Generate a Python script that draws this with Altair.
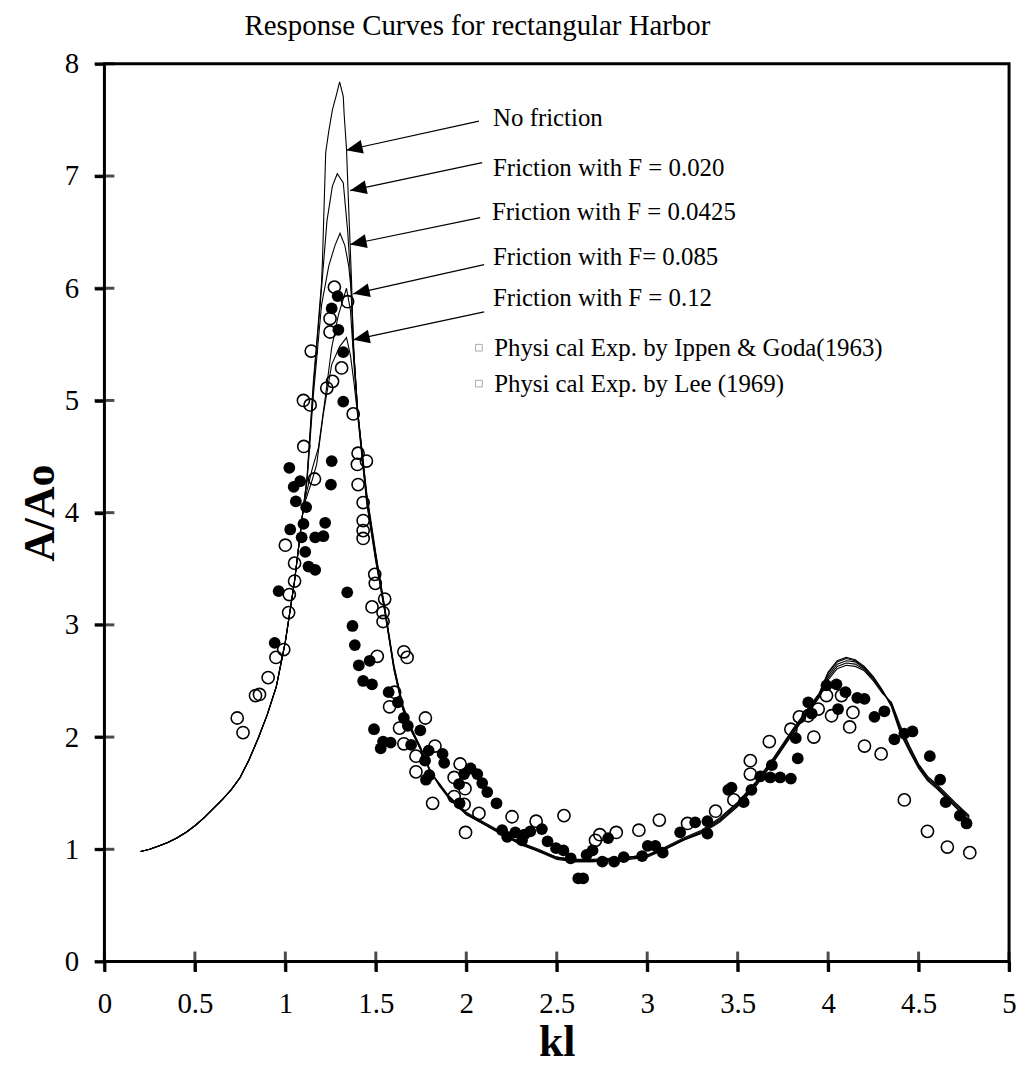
import math
import altair as alt
import pandas as pd

FONT = "Liberation Serif"

# ---------------- curve data ----------------
kl_left = [0.2, 0.25, 0.3, 0.35, 0.4, 0.45, 0.5, 0.55, 0.6, 0.65, 0.7, 0.75, 0.8, 0.85, 0.9, 0.95, 1.0, 1.05, 1.1]
a_left = [0.98, 1.00, 1.03, 1.06, 1.10, 1.15, 1.21, 1.28, 1.36, 1.44, 1.53, 1.64, 1.80, 1.99, 2.20, 2.45, 2.85, 3.38, 4.05]

kl_right = [1.45, 1.5, 1.55, 1.6, 1.65, 1.7, 1.75, 1.8, 1.85, 1.9, 2.0, 2.1, 2.2, 2.3, 2.4, 2.5, 2.6, 2.7, 2.8, 2.9,
            3.0, 3.1, 3.2, 3.3, 3.4, 3.5, 3.6, 3.7, 3.8, 3.9, 3.95, 4.0, 4.05, 4.1, 4.15, 4.2, 4.25, 4.3, 4.35, 4.4,
            4.45, 4.5, 4.55, 4.6, 4.65, 4.7, 4.78]
a_right_nf = [4.17, 3.64, 3.15, 2.64, 2.28, 2.07, 1.90, 1.69, 1.59, 1.48, 1.33, 1.24, 1.15, 1.06, 1.00, 0.93, 0.91, 0.91,
              0.92, 0.93, 0.95, 1.02, 1.10, 1.17, 1.28, 1.42, 1.60, 1.82, 2.06, 2.28, 2.39, 2.58, 2.68, 2.71, 2.69,
              2.63, 2.54, 2.42, 2.27, 2.03, 1.87, 1.72, 1.61, 1.54, 1.46, 1.38, 1.25]
a_right_f1 = [4.15, 3.62, 3.14, 2.63, 2.27, 2.06, 1.89, 1.69, 1.58, 1.48, 1.32, 1.23, 1.14, 1.06, 0.99, 0.93, 0.90, 0.90,
              0.91, 0.93, 0.95, 1.01, 1.09, 1.16, 1.27, 1.41, 1.59, 1.81, 2.05, 2.27, 2.38, 2.57, 2.67, 2.70, 2.68,
              2.62, 2.53, 2.41, 2.28, 2.05, 1.88, 1.73, 1.62, 1.55, 1.47, 1.39, 1.26]
a_right_f2 = [4.13, 3.60, 3.13, 2.62, 2.26, 2.05, 1.89, 1.70, 1.58, 1.47, 1.32, 1.23, 1.14, 1.05, 0.99, 0.92, 0.90, 0.90,
              0.91, 0.92, 0.94, 1.01, 1.09, 1.15, 1.26, 1.40, 1.58, 1.80, 2.04, 2.26, 2.37, 2.55, 2.65, 2.68, 2.67,
              2.61, 2.52, 2.41, 2.29, 2.06, 1.89, 1.74, 1.63, 1.56, 1.48, 1.40, 1.28]
a_right_f3 = [4.10, 3.58, 3.12, 2.61, 2.25, 2.05, 1.88, 1.70, 1.57, 1.47, 1.31, 1.22, 1.13, 1.05, 0.98, 0.92, 0.89, 0.89,
              0.90, 0.92, 0.94, 1.00, 1.08, 1.15, 1.25, 1.39, 1.57, 1.79, 2.03, 2.25, 2.36, 2.53, 2.63, 2.66, 2.65,
              2.60, 2.51, 2.40, 2.30, 2.08, 1.91, 1.75, 1.64, 1.57, 1.49, 1.41, 1.29]
a_right_f4 = [4.08, 3.56, 3.11, 2.60, 2.24, 2.04, 1.88, 1.71, 1.57, 1.46, 1.31, 1.22, 1.13, 1.04, 0.98, 0.91, 0.89, 0.89,
              0.90, 0.91, 0.93, 1.00, 1.08, 1.14, 1.24, 1.38, 1.56, 1.78, 2.02, 2.24, 2.35, 2.51, 2.61, 2.64, 2.63,
              2.59, 2.50, 2.39, 2.31, 2.10, 1.92, 1.76, 1.65, 1.58, 1.50, 1.42, 1.30]

kl_peak_nf = [1.12, 1.155, 1.18, 1.2, 1.205, 1.223, 1.24, 1.26, 1.28, 1.30, 1.32, 1.325, 1.338, 1.353, 1.366, 1.375, 1.40]
a_peak_nf = [4.32, 5.17, 5.65, 6.05, 6.24, 7.21, 7.40, 7.59, 7.71, 7.84, 7.71, 7.55, 7.24, 6.59, 6.06, 5.50, 4.90]
kl_peak_f1 = [1.12, 1.155, 1.2, 1.23, 1.26, 1.287, 1.32, 1.345, 1.36, 1.375, 1.40]
a_peak_f1 = [4.30, 5.12, 6.00, 6.60, 6.91, 7.02, 6.94, 6.50, 6.10, 5.50, 4.90]
kl_peak_f2 = [1.12, 1.155, 1.2, 1.24, 1.274, 1.302, 1.329, 1.35, 1.366, 1.38, 1.40]
a_peak_f2 = [4.28, 5.05, 5.85, 6.20, 6.38, 6.49, 6.38, 6.20, 5.95, 5.40, 4.90]
kl_peak_f3 = [1.12, 1.15, 1.183, 1.22, 1.256, 1.293, 1.338, 1.36, 1.38, 1.40]
a_peak_f3 = [4.20, 4.40, 4.58, 5.02, 5.47, 5.76, 6.00, 5.80, 5.30, 4.88]
kl_peak_f4 = [1.12, 1.15, 1.173, 1.21, 1.256, 1.30, 1.338, 1.36, 1.38, 1.40]
a_peak_f4 = [4.15, 4.30, 4.43, 4.88, 5.32, 5.48, 5.56, 5.40, 5.15, 4.86]

curve_names = ["No friction", "F = 0.020", "F = 0.0425", "F = 0.085", "F = 0.12"]
peaks_kl = [kl_peak_nf, kl_peak_f1, kl_peak_f2, kl_peak_f3, kl_peak_f4]
peaks_a = [a_peak_nf, a_peak_f1, a_peak_f2, a_peak_f3, a_peak_f4]
rights_a = [a_right_nf, a_right_f1, a_right_f2, a_right_f3, a_right_f4]

# ---------------- experimental points ----------------
ippen_kl = [1.027, 1.10, 1.09, 1.11, 1.165, 1.128, 1.165, 0.963, 0.941, 1.022, 1.082, 1.046, 1.058, 1.115,
            1.289, 1.256, 1.293, 1.32, 1.32, 1.256, 1.252, 1.22, 1.21, 1.342, 1.371, 1.384, 1.466, 1.406, 1.43,
            1.479, 1.571, 1.622, 1.49, 1.655, 1.677, 1.746, 1.54, 1.582, 1.527, 1.695, 1.792, 1.869, 1.772, 1.878,
            2.024, 1.796, 1.777, 2.061, 1.988, 1.96, 2.088, 2.116, 2.167, 1.963, 2.198, 2.226, 2.271, 2.321, 2.354,
            2.418, 2.308, 2.449, 2.496, 2.537, 2.577, 2.619, 2.646, 2.665, 2.698, 2.784, 2.752, 2.817, 2.87, 2.972,
            3.003, 3.045, 3.086, 3.182, 3.265, 3.333, 3.333, 3.448, 3.466, 3.533, 3.576, 3.625, 3.68, 3.735, 3.794,
            3.689, 3.821, 3.832, 3.89, 3.909, 4.055, 4.096, 3.991, 4.046, 4.161, 4.201, 4.256, 4.311, 4.366, 4.421,
            4.466, 4.562, 4.619, 4.65, 4.728, 4.765]
ippen_a = [3.85, 3.90, 3.78, 3.65, 3.78, 3.52, 3.49, 3.30, 2.84, 4.40, 4.28, 4.23, 4.10, 4.05,
           5.93, 5.82, 5.63, 5.43, 4.99, 4.46, 4.25, 3.91, 3.79, 3.29, 2.99, 2.82, 2.68, 2.64, 2.50,
           2.47, 2.40, 2.31, 2.07, 2.17, 2.10, 2.06, 1.96, 1.95, 1.90, 1.93, 1.88, 1.85, 1.79, 1.77,
           1.72, 1.66, 1.62, 1.67, 1.67, 1.58, 1.59, 1.51, 1.41, 1.41, 1.17, 1.11, 1.15, 1.13, 1.16,
           1.18, 1.08, 1.07, 1.01, 0.99, 0.92, 0.74, 0.74, 0.95, 0.99, 1.10, 0.89, 0.89, 0.93, 0.94,
           1.03, 1.03, 0.97, 1.15, 1.24, 1.25, 1.14, 1.53, 1.55, 1.42, 1.53, 1.65, 1.64, 1.64, 1.63,
           1.75, 1.99, 1.81, 2.31, 2.21, 2.25, 2.40, 2.46, 2.47, 2.35, 2.34, 2.18, 2.23, 1.98, 2.03,
           2.05, 1.83, 1.62, 1.42, 1.30, 1.23]

lee_kl = [1.0, 1.051, 1.051, 1.022, 1.018, 0.991, 0.948, 0.905, 0.857, 0.835, 0.734, 0.766,
          1.143, 1.10, 1.137, 1.102, 1.161, 1.271, 1.344, 1.247, 1.247, 1.311, 1.261, 1.229, 1.375, 1.402,
          1.448, 1.398, 1.402, 1.43, 1.43, 1.43, 1.43, 1.494, 1.497, 1.549, 1.479, 1.54, 1.54, 1.655, 1.673,
          1.508, 1.604, 1.576, 1.774, 1.631, 1.655, 1.722, 1.827, 1.966, 1.722, 1.933, 1.993, 1.933, 1.988,
          1.814, 2.07, 1.996, 2.253, 2.386, 2.54, 2.738, 2.714, 2.829, 2.954, 3.067, 3.223, 3.378, 3.479,
          3.57, 3.57, 3.675, 3.794, 3.841, 3.89, 3.921, 3.945, 3.991, 4.019, 4.074, 4.119, 4.137, 4.201,
          4.293, 4.421, 4.549, 4.659, 4.783]
lee_a = [3.71, 3.55, 3.39, 3.27, 3.11, 2.78, 2.71, 2.53, 2.38, 2.37, 2.17, 2.04,
         5.44, 5.00, 4.96, 4.59, 4.30, 6.01, 5.88, 5.73, 5.61, 5.29, 5.17, 5.11, 4.88, 4.53,
         4.46, 4.43, 4.25, 4.09, 3.93, 3.84, 3.77, 3.45, 3.37, 3.23, 3.16, 3.11, 3.03, 2.76, 2.71,
         2.72, 2.40, 2.27, 2.17, 2.08, 1.94, 1.83, 1.92, 1.76, 1.69, 1.64, 1.54, 1.47, 1.40,
         1.41, 1.32, 1.15, 1.29, 1.25, 1.30, 1.13, 1.08, 1.15, 1.17, 1.26, 1.23, 1.34, 1.44,
         1.79, 1.67, 1.96, 2.07, 2.18, 2.19, 2.00, 2.25, 2.37, 2.19, 2.37, 2.09, 2.22, 1.92,
         1.85, 1.44, 1.16, 1.02, 0.97]

# ---------------- annotations ----------------
ann_text = ["No friction", "Friction with F = 0.020", "Friction with F = 0.0425",
            "Friction with F= 0.085", "Friction with F = 0.12"]
ann_kl = [2.148, 2.148, 2.142, 2.148, 2.148]
ann_a = [7.52, 7.07, 6.68, 6.28, 5.91]
arrow_tail_kl = [2.07, 2.088, 2.077, 2.099, 2.099]
arrow_tail_a = [7.49, 7.12, 6.63, 6.21, 5.79]
arrow_tip_kl = [1.336, 1.358, 1.358, 1.375, 1.375]
arrow_tip_a = [7.23, 6.87, 6.39, 5.95, 5.54]

legend_text = ["Physi  cal Exp. by Ippen & Goda(1963)", "Physi  cal Exp. by Lee (1969)"]
legend_kl = [2.154, 2.154]
legend_a = [5.47, 5.15]
legend_icon_kl = [2.07, 2.07]

x_ticks = [0, 0.5, 1, 1.5, 2, 2.5, 3, 3.5, 4, 4.5, 5]
y_ticks = [0, 1, 2, 3, 4, 5, 6, 7, 8]

W, H = 910, 903
PX_X = W / 5.0
PX_Y = H / 8.0

# ---------------- build tables ----------------
rows = []
for name, pk, pa, ra in zip(curve_names, peaks_kl, peaks_a, rights_a):
    ks = kl_left + pk + kl_right
    vs = a_left + pa + ra
    for i, (k, v) in enumerate(zip(ks, vs)):
        rows.append({"curve": name, "kl": k, "A": v, "ord": i})
curves_df = pd.DataFrame(rows)

ippen_df = pd.DataFrame({"kl": ippen_kl, "A": ippen_a})
lee_df = pd.DataFrame({"kl": lee_kl, "A": lee_a})

angles = []
for tx, ty, hx, hy in zip(arrow_tail_kl, arrow_tail_a, arrow_tip_kl, arrow_tip_a):
    dx = (hx - tx) * PX_X
    dy = -(hy - ty) * PX_Y
    angles.append(math.degrees(math.atan2(dy, dx)) % 360)
arrow_df = pd.DataFrame({"x": arrow_tail_kl, "y": arrow_tail_a, "x2": arrow_tip_kl, "y2": arrow_tip_a,
                         "angle": angles})
ann_df = pd.DataFrame({"kl": ann_kl, "A": ann_a, "t": ann_text})
leg_df = pd.DataFrame({"kl": legend_kl, "A": legend_a, "t": legend_text, "ik": legend_icon_kl})
xt_df = pd.DataFrame({"kl": x_ticks, "A": [0] * len(x_ticks)})
yt_df = pd.DataFrame({"kl": [0] * len(y_ticks), "A": y_ticks})

xscale = alt.Scale(domain=[0, 5], nice=False, zero=False)
yscale = alt.Scale(domain=[0, 8], nice=False, zero=False)

xaxis = alt.Axis(values=x_ticks, format="~g", title="kl", grid=False, domain=False,
                 ticks=True, tickSize=10, tickWidth=3, tickColor="black",
                 labelFont=FONT, labelFontSize=29, labelColor="black", labelPadding=18,
                 titleFont=FONT, titleFontSize=44, titleFontWeight="bold", titleColor="black",
                 titlePadding=3, labelFlush=False)
yaxis = alt.Axis(values=y_ticks, format="~g", title="A/Ao", grid=False, domain=False,
                 ticks=True, tickSize=10, tickWidth=3, tickColor="black",
                 labelFont=FONT, labelFontSize=29, labelColor="black", labelPadding=16,
                 titleFont=FONT, titleFontSize=44, titleFontWeight="bold", titleColor="black",
                 titlePadding=2, labelFlush=False)

lines = alt.Chart(curves_df).mark_line(color="black", strokeWidth=1.1).encode(
    x=alt.X("kl:Q", scale=xscale, axis=xaxis),
    y=alt.Y("A:Q", scale=yscale, axis=yaxis),
    detail="curve:N",
    order="ord:Q",
)

filled = alt.Chart(ippen_df).mark_point(shape="circle", filled=True, color="black", size=140, opacity=1).encode(
    x="kl:Q", y="A:Q")
hollow = alt.Chart(lee_df).mark_point(shape="circle", filled=False, color="black", size=150,
                                       strokeWidth=1.6, opacity=1).encode(x="kl:Q", y="A:Q")

arrows = alt.Chart(arrow_df).mark_rule(color="black", strokeWidth=1.2).encode(
    x="x:Q", y="y:Q", x2="x2:Q", y2="y2:Q")
heads = alt.Chart(arrow_df).mark_point(shape="M0,0L-1,-0.42L-1,0.42Z", filled=True, color="black",
                                        size=1100, opacity=1).encode(
    x="x2:Q", y="y2:Q", angle=alt.Angle("angle:Q", scale=None))

ann = alt.Chart(ann_df).mark_text(align="left", baseline="middle", font=FONT, fontSize=25, color="black").encode(
    x="kl:Q", y="A:Q", text="t:N")
leg = alt.Chart(leg_df).mark_text(align="left", baseline="middle", font=FONT, fontSize=25, color="black").encode(
    x="kl:Q", y="A:Q", text="t:N")
leg_icons = alt.Chart(leg_df).mark_point(shape="square", filled=False, color="#888888", size=45,
                                          strokeWidth=1).encode(x="ik:Q", y="A:Q")

xt = alt.Chart(xt_df).mark_tick(orient="vertical", color="black", thickness=3, size=20).encode(x="kl:Q", y="A:Q")
yt = alt.Chart(yt_df).mark_tick(orient="horizontal", color="black", thickness=3, size=20).encode(x="kl:Q", y="A:Q")

chart = alt.layer(lines, filled, hollow, arrows, heads, ann, leg, leg_icons, xt, yt).properties(
    width=W, height=H,
    title=alt.Title("Response Curves for rectangular Harbor", font=FONT, fontSize=29, fontWeight="normal",
                    color="black", anchor="start", frame="group", dx=141, offset=9),
    autosize=alt.AutoSizeParams(type="none"),
    padding={"left": 97, "top": 53, "right": 10, "bottom": 107},
).configure_view(stroke="black", strokeWidth=3)

chart.save("out.html", embed_options={"renderer": "svg", "actions": False})
